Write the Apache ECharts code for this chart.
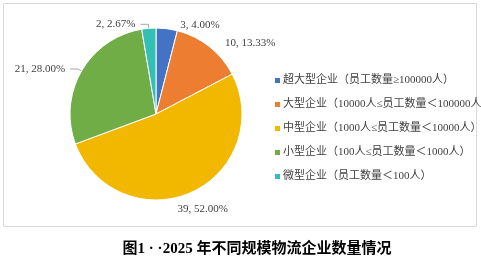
<!DOCTYPE html>
<html>
<head>
<meta charset="utf-8">
<script src="https://cdn.jsdelivr.net/npm/echarts@6/dist/echarts.min.js"></script>
<style>
html, body { margin: 0; padding: 0; background: #fff; }
#chart { width: 481px; height: 263px; }
</style>
</head>
<body>
<div id="chart"></div>
<script>
var categories = [
    "超大型企业（员工数量≥100000人）",
    "大型企业（10000人≤员工数量＜100000人）",
    "中型企业（1000人≤员工数量＜10000人）",
    "小型企业（100人≤员工数量＜1000人）",
    "微型企业（员工数量＜100人）"
];
var counts = [3, 10, 39, 21, 2];
var percents = ["4.00%", "13.33%", "52.00%", "28.00%", "2.67%"];
var colors = ["#4472C4", "#ED7D31", "#F2B800", "#70AD47", "#33BFB3"];
var withLine = [false, false, false, true, true];
var title = "图1 · ·2025 年不同规模物流企业数量情况";

var serif = '"Liberation Serif", "Noto Sans CJK SC", serif';

var pieData = categories.map(function(name, i) {
    return {
        name: name,
        value: counts[i],
        itemStyle: { color: colors[i] },
        labelLine: { show: withLine[i] }
    };
});

var chart = echarts.init(document.getElementById("chart"));
chart.setOption({
    animation: false,
    title: {
        text: title,
        left: 252,
        top: 237,
        textAlign: "center",
        textStyle: { fontFamily: serif, fontSize: 15, fontWeight: "bold", color: "#000" }
    },
    graphic: [{
        type: "rect",
        shape: { x: 3.5, y: 3.5, width: 473, height: 223 },
        style: { fill: "none", stroke: "#d9d9d9", lineWidth: 1 },
        z: -1
    }],
    legend: {
        orient: "vertical",
        left: 268,
        top: 70,
        itemGap: 13,
        itemWidth: 7,
        itemHeight: 7,
        icon: "rect",
        textStyle: { fontFamily: serif, fontSize: 11, color: "#404040", padding: [0, 0, 0, -3] },
        data: categories
    },
    series: [{
        type: "pie",
        center: [156, 114],
        radius: [0, 86],
        startAngle: 90,
        clockwise: true,
        itemStyle: { borderColor: "#fff", borderWidth: 1 },
        label: {
            show: true,
            position: "outside",
            fontFamily: serif,
            fontSize: 11,
            color: "#404040",
            formatter: function(p) {
                return p.value + ", " + percents[p.dataIndex];
            }
        },
        labelLine: { show: true, length: 4, length2: 8, lineStyle: { color: "#a6a6a6" } },
        // 中型企业のラベルは円の真下寄りに
        labelLayout: function(params) {
            if (params.dataIndex === 2) return { dx: -28, dy: 13 };
            return {};
        },
        data: pieData
    }]
});
</script>
</body>
</html>
